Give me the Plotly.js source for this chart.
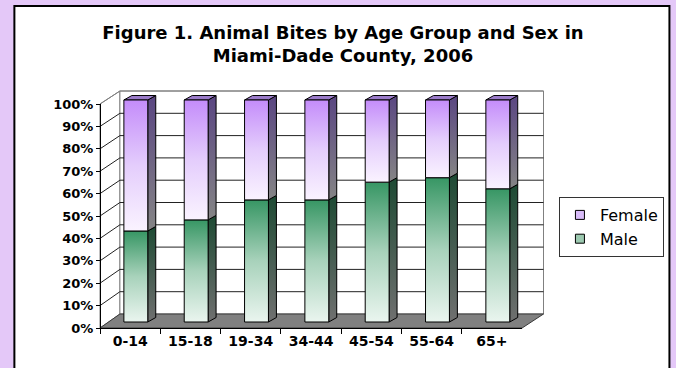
<!DOCTYPE html>
<html>
<head>
<meta charset="utf-8">
<script src="https://cdn.plot.ly/plotly-3.0.1.min.js"></script>
<style>
  html, body { margin: 0; padding: 0; background: #e4c8f8; }
  #chart { width: 676px; height: 368px; }
</style>
</head>
<body>
<div id="chart"></div>
<script>
// ---------- data ----------
const categories = ['0-14', '15-18', '19-34', '34-44', '45-54', '55-64', '65+'];
const maleShare = [41, 46, 55, 55, 63, 65, 60];
const femaleShare = [59, 54, 45, 45, 37, 35, 40];
const seriesNames = ['Female', 'Male'];
const yTickValues = [0, 10, 20, 30, 40, 50, 60, 70, 80, 90, 100];
const yTickLabels = ['0%', '10%', '20%', '30%', '40%', '50%', '60%', '70%', '80%', '90%', '100%'];

// ---------- geometry of the 3D look (pixels) ----------
const G = {
  L: 100, R: 546, T: 91, B: 328,     // plot area
  barC0: 136, catW: 60.6,            // bar-front centre of first category, category pitch
  barY0: 322, pxPerPct: 2.22,        // bar-front plane: 0% at y=322
  barHalf: 12, depthX: 8, depthY: 4.5,
  wallX: 120, wallBottom: 314, wallPx: 2.23,   // back wall
  axisBottom: 328, axisTop: 104, axisRight: 524 // front plane
};
const PX = x => (x - G.L) / (G.R - G.L);
const PY = y => (G.B - y) / (G.B - G.T);

const xRange = [(G.L - G.barC0) / G.catW, (G.R - G.barC0) / G.catW];
const yRange = [(G.barY0 - G.B) / G.pxPerPct, (G.barY0 - G.T) / G.pxPerPct];
const hw = G.barHalf / G.catW;
const ddx = G.depthX / G.catW;
const ddy = G.depthY / G.pxPerPct;

const FONT = 'DejaVu Sans, Arial, sans-serif';

const maleFront = [[0, '#eaf5ef'], [0.5, '#a8d2bb'], [1, '#379664']];
const femaleFront = [[0, '#faf3ff'], [0.5, '#e4cdfc'], [1, '#c48cfa']];
const maleSide = [[0, '#707070'], [1, '#1d4a33']];
const femaleSide = [[0, '#858585'], [1, '#5a4682']];

function poly(xs, ys, scale, extra) {
  return Object.assign({
    type: 'scatter', mode: 'lines', fill: 'toself',
    x: xs.concat([xs[0]]), y: ys.concat([ys[0]]),
    xaxis: 'x', yaxis: 'y',
    line: { color: '#000', width: 1 },
    fillgradient: { type: 'vertical', colorscale: scale },
    hoverinfo: 'skip', showlegend: false
  }, extra || {});
}

const traces = [];
categories.forEach((c, i) => {
  const m = maleShare[i];
  const top = m + femaleShare[i];
  const xl = i - hw, xr = i + hw;
  // side faces
  traces.push(poly([xr, xr + ddx, xr + ddx, xr], [0, ddy, m + ddy, m], maleSide));
  traces.push(poly([xr, xr + ddx, xr + ddx, xr], [m, m + ddy, top + ddy, top], femaleSide));
  // top face
  traces.push(poly([xl, xr, xr + ddx, xl + ddx], [top, top, top + ddy, top + ddy],
                   [[0, '#9b7bc9'], [1, '#9b7bc9']]));
  // front faces
  traces.push(poly([xl, xr, xr, xl], [0, 0, m, m], maleFront));
  traces.push(poly([xl, xr, xr, xl], [m, m, top, top], femaleFront));
});

// legend entries
traces.push({
  type: 'scatter', mode: 'markers', x: [null], y: [null], name: seriesNames[0],
  marker: { symbol: 'square', size: 9, color: '#d9bcf9', line: { color: '#000', width: 1 } },
  legendrank: 1, hoverinfo: 'skip'
});
traces.push({
  type: 'scatter', mode: 'markers', x: [null], y: [null], name: seriesNames[1],
  marker: { symbol: 'square', size: 9, color: '#9cc9b0', line: { color: '#000', width: 1 } },
  legendrank: 2, hoverinfo: 'skip'
});
// carrier for the front category axis
traces.push({
  type: 'scatter', mode: 'markers', x: categories, y: categories.map(() => 0),
  xaxis: 'x2', yaxis: 'y2', marker: { opacity: 0 }, hoverinfo: 'skip', showlegend: false
});

// ---------- decor shapes ----------
const shapes = [];
shapes.push({ type: 'rect', xref: 'paper', yref: 'paper', layer: 'below',
  x0: PX(14), x1: PX(672), y0: PY(6), y1: PY(372),
  fillcolor: '#ffffff', line: { color: '#000', width: 2 } });
// left wall
shapes.push({ type: 'path', xref: 'paper', yref: 'paper', layer: 'below',
  path: `M${PX(G.L)},${PY(G.axisTop)} L${PX(G.wallX)},${PY(G.T)} L${PX(G.wallX)},${PY(G.wallBottom)} L${PX(G.L)},${PY(G.axisBottom)} Z`,
  fillcolor: '#ffffff', line: { color: '#808080', width: 1 } });
// back wall
shapes.push({ type: 'rect', xref: 'paper', yref: 'paper', layer: 'below',
  x0: PX(G.wallX), x1: PX(G.R - 0.5), y0: PY(G.wallBottom), y1: PY(G.T),
  fillcolor: '#ffffff', line: { color: '#808080', width: 1 } });
// gridlines
yTickValues.filter(v => v > 0).forEach(v => {
  const yb = G.wallBottom - v * G.wallPx;
  const yf = G.axisBottom - v * (G.axisBottom - G.axisTop) / 100;
  shapes.push({ type: 'line', xref: 'paper', yref: 'paper', layer: 'below',
    x0: PX(G.wallX), x1: PX(G.R - 0.5), y0: PY(yb), y1: PY(yb),
    line: { color: v === 100 ? '#808080' : '#222', width: 1 } });
  shapes.push({ type: 'line', xref: 'paper', yref: 'paper', layer: 'below',
    x0: PX(G.L), x1: PX(G.wallX), y0: PY(yf), y1: PY(yb),
    line: { color: v === 100 ? '#808080' : '#222', width: 1 } });
});
// floor
shapes.push({ type: 'path', xref: 'paper', yref: 'paper', layer: 'below',
  path: `M${PX(G.L)},${PY(G.axisBottom)} L${PX(G.axisRight)},${PY(G.axisBottom)} L${PX(G.R - 0.5)},${PY(G.wallBottom)} L${PX(G.wallX)},${PY(G.wallBottom)} Z`,
  fillcolor: '#808080', line: { color: '#3a3a3a', width: 1 } });

const layout = {
  width: 676, height: 368,
  margin: { l: G.L, r: 676 - G.R, t: G.T, b: 368 - G.B, pad: 0 },
  paper_bgcolor: '#e4c8f8',
  plot_bgcolor: 'rgba(0,0,0,0)',
  font: { family: FONT, color: '#000' },
  title: {
    text: 'Figure 1. Animal Bites by Age Group and Sex in<br>Miami-Dade County, 2006',
    font: { family: FONT, size: 18, weight: 'bold', color: '#000' },
    x: 343 / 676, xref: 'container', xanchor: 'center',
    y: 1 - 39 / 368, yref: 'container', yanchor: 'top',
    pad: { t: 0, b: 0 }
  },
  xaxis: { range: xRange, visible: false, fixedrange: true },
  yaxis: { range: yRange, visible: false, fixedrange: true },
  xaxis2: {
    type: 'category', domain: [0, PX(G.axisRight)], anchor: 'free', position: 0,
    range: [-0.5, categories.length - 0.5],
    showline: true, linecolor: '#000', linewidth: 1,
    ticks: 'outside', tickson: 'boundaries', ticklen: 5, tickcolor: '#000',
    showgrid: false, zeroline: false,
    tickfont: { family: FONT, size: 14, weight: 'bold', color: '#000' }
  },
  yaxis2: {
    domain: [0, PY(G.axisTop)], anchor: 'free', position: 0, side: 'left',
    range: [0, 100], tickmode: 'array', tickvals: yTickValues, ticktext: yTickLabels,
    showline: true, linecolor: '#000', linewidth: 1,
    ticks: 'outside', ticklen: 4, tickcolor: '#000',
    showgrid: false, zeroline: false,
    tickfont: { family: FONT, size: 13, weight: 'bold', color: '#000' }
  },
  showlegend: true,
  legend: {
    x: PX(561), y: PY(197), xanchor: 'left', yanchor: 'top',
    bgcolor: '#ffffff', bordercolor: '#333', borderwidth: 1,
    font: { family: FONT, size: 16, color: '#000' },
    itemwidth: 30, tracegroupgap: 0
  },
  shapes: shapes
};

Plotly.newPlot('chart', traces, layout, { displayModeBar: false, staticPlot: true });
</script>
</body>
</html>
